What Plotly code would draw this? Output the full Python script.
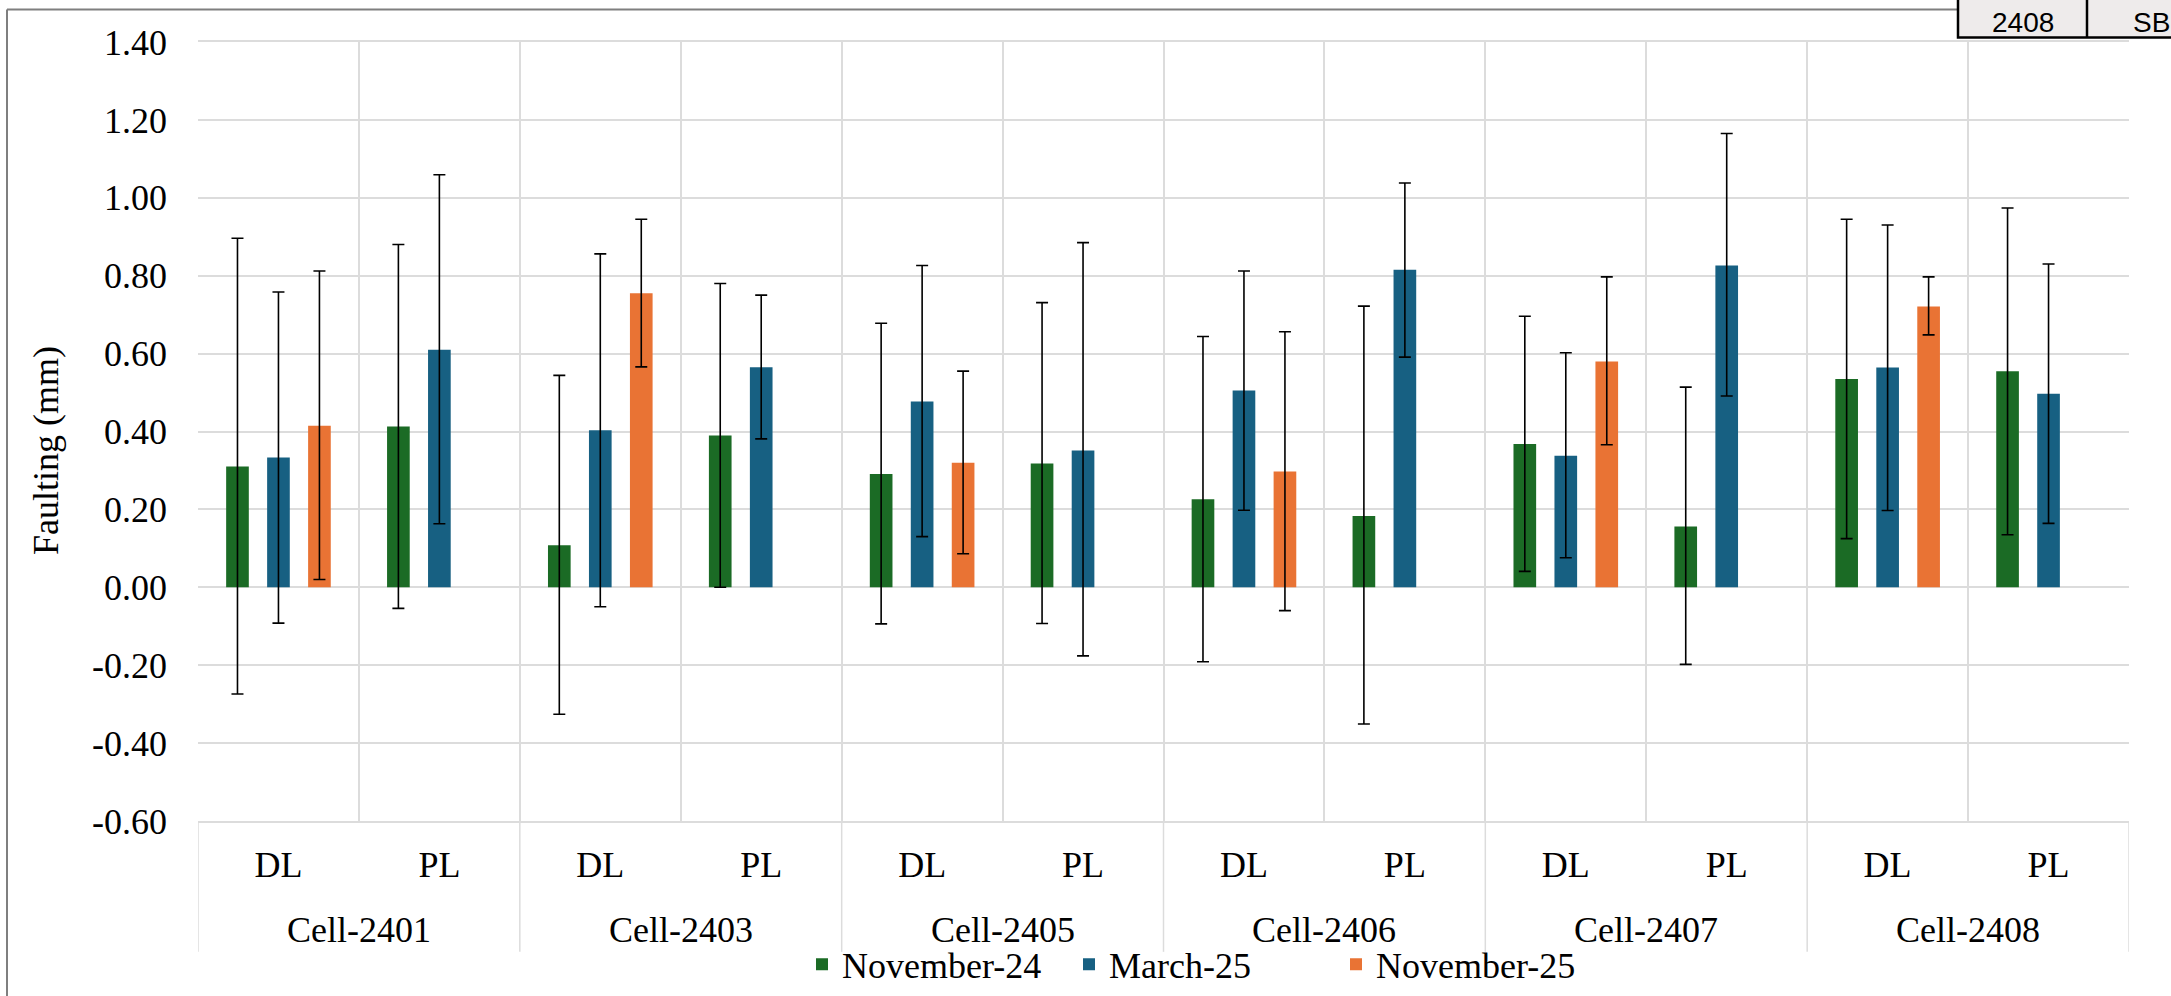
import plotly.graph_objects as go

# ---------------- data ----------------
cells = ["Cell-2401", "Cell-2403", "Cell-2405", "Cell-2406", "Cell-2407", "Cell-2408"]
positions = ["DL", "PL"]

series_names = ["November-24", "March-25", "November-25"]

nov24 = [0.31, 0.413, 0.108, 0.390, 0.291, 0.318, 0.226, 0.183, 0.368, 0.156, 0.535, 0.555]
nov24_hi = [0.896, 0.880, 0.544, 0.780, 0.678, 0.731, 0.644, 0.722, 0.696, 0.514, 0.945, 0.974]
nov24_lo = [-0.274, -0.054, -0.326, 0.0, -0.094, -0.093, -0.191, -0.351, 0.041, -0.198, 0.125, 0.135]

mar25 = [0.333, 0.610, 0.403, 0.565, 0.477, 0.351, 0.505, 0.815, 0.338, 0.826, 0.564, 0.497]
mar25_hi = [0.758, 1.059, 0.856, 0.750, 0.826, 0.885, 0.812, 1.038, 0.602, 1.165, 0.930, 0.830]
mar25_lo = [-0.092, 0.163, -0.050, 0.381, 0.130, -0.176, 0.198, 0.591, 0.076, 0.491, 0.197, 0.164]

nov25 = [0.415, None, 0.755, None, 0.320, None, 0.297, None, 0.580, None, 0.721, None]
nov25_hi = [0.812, None, 0.945, None, 0.555, None, 0.656, None, 0.797, None, 0.797, None]
nov25_lo = [0.020, None, 0.566, None, 0.086, None, -0.060, None, 0.366, None, 0.648, None]

y_tick_vals = [-0.6, -0.4, -0.2, 0.0, 0.2, 0.4, 0.6, 0.8, 1.0, 1.2, 1.4]
y_tick_text = ["-0.60", "-0.40", "-0.20", "0.00", "0.20", "0.40", "0.60", "0.80", "1.00", "1.20", "1.40"]

y_title = "Faulting (mm)"
table_texts = ["2408", "SB"]

colors = ["#1b6b25", "#176082", "#e97334"]

# ---------------- figure ----------------
cat_ids = [f"{c} {p}" for c in cells for p in positions]
cat_text = [p for _ in cells for p in positions]

def err(vals, hi, lo):
    plus = [None if v is None else h - v for v, h in zip(vals, hi)]
    minus = [None if v is None else v - l for v, l in zip(vals, lo)]
    return plus, minus

W, H = 2171, 996
L, R, T, B = 198, 2129, 41.5, 821.5

def px_x(p):
    return (p - L) / (R - L)

def px_y(p):
    return (B - p) / (B - T)

FONT = "Liberation Serif"
FS = 36
GRID = "#dcdcdc"

fig = go.Figure()
for name, vals, hi, lo, col in [
    (series_names[0], nov24, nov24_hi, nov24_lo, colors[0]),
    (series_names[1], mar25, mar25_hi, mar25_lo, colors[1]),
    (series_names[2], nov25, nov25_hi, nov25_lo, colors[2]),
]:
    plus, minus = err(vals, hi, lo)
    fig.add_trace(go.Bar(
        x=cat_ids, y=vals, name=name,
        marker=dict(color=col, line=dict(width=0)),
        error_y=dict(type="data", symmetric=False, array=plus, arrayminus=minus,
                     color="black", thickness=1.6, width=6),
    ))

shapes = [
    # outer chart frame (left and top)
    dict(type="line", xref="paper", yref="paper", x0=px_x(7), x1=px_x(7), y0=px_y(9), y1=px_y(1010),
         line=dict(color="#7f7f7f", width=2)),
    dict(type="line", xref="paper", yref="paper", x0=px_x(7), x1=px_x(1958), y0=px_y(9), y1=px_y(9),
         line=dict(color="#7f7f7f", width=2)),
    # partial table at top right
    dict(type="rect", xref="paper", yref="paper", x0=px_x(1958), x1=px_x(2190), y0=px_y(-5), y1=px_y(37),
         fillcolor="#eeebeb", line=dict(color="black", width=2.5)),
    dict(type="line", xref="paper", yref="paper", x0=px_x(2087), x1=px_x(2087), y0=px_y(-5), y1=px_y(37),
         line=dict(color="black", width=2.5)),
]
# group dividers below the axis
n_pos = len(positions)
for i in range(len(cells) + 1):
    xb = i * n_pos - 0.5
    shapes.append(dict(type="line", xref="x", yref="paper", x0=xb, x1=xb, y0=px_y(952.5), y1=0,
                       line=dict(color=GRID, width=1.5), layer="below"))

annotations = [
    dict(text=table_texts[0], xref="paper", yref="paper", x=px_x(2023), y=px_y(22), showarrow=False,
         xanchor="center", yanchor="middle", font=dict(family="Liberation Sans", size=28, color="black")),
    dict(text=table_texts[1], xref="paper", yref="paper", x=px_x(2131), y=px_y(22), showarrow=False,
         xanchor="left", yanchor="middle", font=dict(family="Liberation Sans", size=28, color="black")),
    dict(text=y_title, xref="paper", yref="paper", x=px_x(46), y=px_y(451), showarrow=False,
         textangle=-90, xanchor="center", yanchor="middle", font=dict(family=FONT, size=FS, color="black")),
]
for i, c in enumerate(cells):
    annotations.append(dict(text=c, xref="x", yref="paper", x=i * n_pos + (n_pos - 1) / 2, y=px_y(931),
                            showarrow=False, xanchor="center", yanchor="middle",
                            font=dict(family=FONT, size=FS, color="black")))

fig.update_layout(
    width=W, height=H,
    margin=dict(l=L, r=W - R, t=T, b=H - B, pad=0, autoexpand=False),
    paper_bgcolor="white", plot_bgcolor="white",
    barmode="group", bargap=0.236, bargroupgap=0.447,
    font=dict(family=FONT, size=FS, color="black"),
    showlegend=True,
    legend=dict(orientation="h", x=px_x(802), xanchor="left", y=px_y(965), yanchor="middle",
                font=dict(family=FONT, size=FS, color="black"), bgcolor="rgba(0,0,0,0)",
                entrywidth=222, entrywidthmode="pixels"),
    shapes=shapes,
    annotations=annotations,
)

fig.update_xaxes(
    type="category", tickson="boundaries", categoryorder="array", categoryarray=cat_ids,
    tickvals=cat_ids, ticktext=cat_text, automargin=False,
    showgrid=True, gridcolor=GRID, gridwidth=1.5,
    showline=True, linecolor=GRID, linewidth=1.5, mirror=True,
    ticks="", ticklabelstandoff=11, tickfont=dict(family=FONT, size=FS, color="black"),
    range=[-0.5, len(cat_ids) - 0.5],
)
fig.update_yaxes(
    range=[-0.6, 1.4], tickvals=y_tick_vals, ticktext=y_tick_text, automargin=False,
    showgrid=True, gridcolor=GRID, gridwidth=1.5,
    zeroline=True, zerolinecolor=GRID, zerolinewidth=1.5,
    showline=False, ticks="", ticklabelstandoff=30,
    tickfont=dict(family=FONT, size=FS, color="black"),
)

fig.write_html("out.html")
